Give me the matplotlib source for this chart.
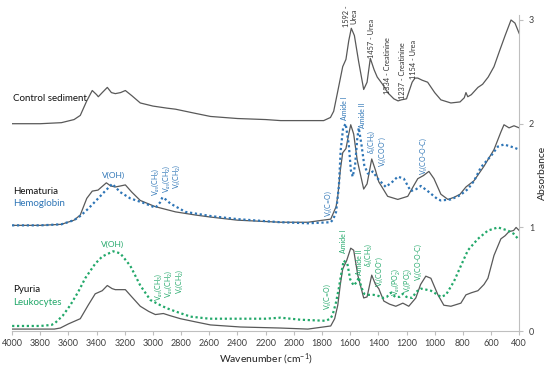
import matplotlib
matplotlib.use("Agg")
from matplotlib import pyplot as plt
import numpy as np

plt.rcParams['font.family'] = ['Lato', 'DejaVu Sans']
plt.rcParams['mathtext.fontset'] = 'custom'
plt.rcParams['mathtext.rm'] = 'Lato'
plt.rcParams['mathtext.it'] = 'Lato:italic'
plt.rcParams['mathtext.bf'] = 'Lato:bold'

# Control sediment (offset +2 in the original)
control_wn = [4000, 3800, 3650, 3560, 3516, 3470, 3431, 3400, 3388, 3360, 3324, 3295, 3267, 3230, 3196, 3150,
              3090, 3000, 2900, 2840, 2700, 2592, 2400, 2200, 2094, 1900, 1788, 1740, 1717, 1690, 1653, 1630,
              1610, 1592, 1570, 1540, 1504, 1480, 1457, 1430, 1408, 1370, 1334, 1290, 1260, 1237, 1200, 1160,
              1140, 1120, 1090, 1050, 1000, 956, 885, 820, 790, 778, 765, 740, 693, 660, 620, 579, 540, 500,
              458, 430, 400]
control_abs = [2.00, 2.00, 2.01, 2.04, 2.08, 2.22, 2.32, 2.28, 2.26, 2.30, 2.35, 2.30, 2.29, 2.30, 2.32, 2.27,
               2.20, 2.17, 2.15, 2.14, 2.10, 2.07, 2.05, 2.04, 2.03, 2.03, 2.03, 2.06, 2.12, 2.30, 2.55, 2.62,
               2.80, 2.92, 2.85, 2.60, 2.33, 2.40, 2.63, 2.52, 2.45, 2.38, 2.30, 2.24, 2.22, 2.23, 2.24, 2.40,
               2.44, 2.44, 2.42, 2.40, 2.30, 2.23, 2.20, 2.21, 2.25, 2.30, 2.26, 2.28, 2.35, 2.38, 2.45, 2.55,
               2.70, 2.85, 3.00, 2.97, 2.87]

# Hematuria (offset +1)
hema_wn = [4000, 3800, 3650, 3560, 3516, 3470, 3431, 3390, 3331, 3300, 3267, 3230, 3196, 3150, 3090, 2983,
           2840, 2700, 2592, 2400, 2094, 1900, 1738, 1700, 1688, 1670, 1653, 1630, 1610, 1596, 1575, 1550,
           1504, 1480, 1447, 1420, 1397, 1334, 1262, 1191, 1150, 1120, 1080, 1041, 1005, 956, 906, 863, 820,
           778, 721, 650, 579, 530, 508, 472, 437, 400]
hema_abs = [1.02, 1.02, 1.03, 1.07, 1.12, 1.28, 1.35, 1.36, 1.43, 1.40, 1.39, 1.40, 1.41, 1.34, 1.26, 1.20,
            1.15, 1.12, 1.10, 1.07, 1.05, 1.05, 1.08, 1.20, 1.30, 1.55, 1.72, 1.76, 1.90, 1.99, 1.90, 1.65,
            1.37, 1.42, 1.66, 1.55, 1.44, 1.30, 1.27, 1.30, 1.40, 1.47, 1.50, 1.54, 1.47, 1.32, 1.27, 1.29,
            1.32, 1.39, 1.45, 1.59, 1.75, 1.92, 1.99, 1.96, 1.98, 1.96]

# Hemoglobin (offset +1)
hemo_wn = [4000, 3800, 3650, 3560, 3516, 3460, 3410, 3340, 3289, 3232, 3161, 3054, 2983, 2950, 2933, 2910,
           2876, 2770, 2592, 2400, 2094, 1900, 1738, 1720, 1700, 1680, 1667, 1650, 1632, 1610, 1595, 1582,
           1565, 1550, 1539, 1520, 1500, 1475, 1455, 1440, 1404, 1347, 1300, 1262, 1219, 1170, 1130, 1098,
           1049, 977, 956, 885, 820, 764, 720, 672, 600, 551, 508, 437, 400]
hemo_abs = [1.02, 1.02, 1.03, 1.07, 1.11, 1.18, 1.25, 1.35, 1.42, 1.34, 1.28, 1.23, 1.19, 1.24, 1.29, 1.27,
            1.23, 1.15, 1.11, 1.08, 1.05, 1.04, 1.05, 1.08, 1.15, 1.40, 1.75, 1.96, 2.00, 1.80, 1.55, 1.49,
            1.60, 1.85, 1.96, 1.80, 1.60, 1.52, 1.52, 1.54, 1.47, 1.39, 1.44, 1.49, 1.47, 1.35, 1.37, 1.40,
            1.35, 1.27, 1.26, 1.27, 1.31, 1.37, 1.45, 1.58, 1.69, 1.78, 1.80, 1.77, 1.75]

# Pyuria
pyu_wn = [4000, 3800, 3700, 3658, 3600, 3516, 3460, 3410, 3360, 3324, 3290, 3267, 3196, 3150, 3090, 3030,
          2983, 2926, 2880, 2805, 2700, 2592, 2378, 2094, 1900, 1738, 1710, 1688, 1670, 1653, 1625, 1596,
          1575, 1546, 1504, 1480, 1447, 1420, 1397, 1361, 1320, 1276, 1226, 1184, 1134, 1100, 1063, 1027,
          977, 935, 885, 814, 778, 740, 693, 650, 622, 579, 530, 500, 472, 440, 422, 400]
pyu_abs = [0.02, 0.02, 0.02, 0.03, 0.07, 0.12, 0.25, 0.36, 0.39, 0.44, 0.41, 0.40, 0.40, 0.33, 0.24, 0.19,
           0.16, 0.17, 0.15, 0.12, 0.09, 0.06, 0.04, 0.03, 0.02, 0.05, 0.12, 0.25, 0.45, 0.60, 0.68, 0.80,
           0.78, 0.54, 0.32, 0.33, 0.54, 0.45, 0.41, 0.29, 0.26, 0.24, 0.27, 0.24, 0.32, 0.45, 0.53, 0.51,
           0.35, 0.25, 0.24, 0.27, 0.35, 0.37, 0.39, 0.45, 0.51, 0.73, 0.89, 0.92, 0.96, 0.97, 1.00, 0.97]

# Leukocytes
leuk_wn = [4000, 3800, 3720, 3694, 3640, 3587, 3530, 3481, 3410, 3360, 3282, 3232, 3161, 3090, 3018, 2947,
           2900, 2840, 2734, 2600, 2400, 2200, 2094, 1952, 1774, 1740, 1724, 1700, 1681, 1660, 1646, 1620,
           1600, 1575, 1550, 1539, 1520, 1500, 1470, 1433, 1400, 1368, 1340, 1312, 1280, 1250, 1226, 1200,
           1160, 1130, 1098, 1060, 1027, 990, 956, 920, 863, 814, 764, 693, 622, 551, 480, 440, 408, 400]
leuk_abs = [0.05, 0.05, 0.06, 0.08, 0.15, 0.25, 0.38, 0.51, 0.65, 0.72, 0.77, 0.75, 0.63, 0.44, 0.30, 0.25,
            0.22, 0.19, 0.14, 0.12, 0.12, 0.12, 0.13, 0.11, 0.10, 0.12, 0.16, 0.28, 0.41, 0.58, 0.68, 0.65,
            0.50, 0.44, 0.48, 0.52, 0.42, 0.36, 0.35, 0.35, 0.34, 0.32, 0.33, 0.37, 0.33, 0.33, 0.36, 0.33,
            0.32, 0.38, 0.41, 0.40, 0.39, 0.36, 0.33, 0.35, 0.48, 0.63, 0.78, 0.89, 0.97, 1.00, 0.97, 0.94,
            0.89, 0.88]

x_ticks = list(range(4000, 399, -200))
y_ticks = [0, 1, 2, 3]

# band labels: (text, wavenumber, absorbance at text bottom)
control_bands = [("1592 -\nUrea", 1600, 2.93), ("1457 - Urea", 1447, 2.63), ("1334 - Creatinine", 1333, 2.29),
                 ("1237 - Creatinine", 1226, 2.24), ("1154 - Urea", 1148, 2.43)]
hemo_bands = [(r"V$_{as}$(CH$_3$)", 2985, 1.30), (r"V$_{as}$(CH$_2$)", 2908, 1.33), (r"V$_s$(CH$_2$)", 2831, 1.37),
              (r"V$_s$(C=O)", 1752, 1.10), ("Amide I", 1640, 2.04), ("Amide II", 1510, 1.96),
              (r"$\delta_s$(CH$_3$)", 1448, 1.71), (r"V$_s$(COO$^{-}$)", 1373, 1.58), (r"V$_s$(CO-O-C)", 1084, 1.51)]
leuk_bands = [(r"V$_{as}$(CH$_3$)", 2965, 0.29), (r"V$_{as}$(CH$_2$)", 2888, 0.32), (r"V$_s$(CH$_2$)", 2811, 0.36),
              (r"V$_s$(C=O)", 1759, 0.20), ("Amide I", 1646, 0.75), ("Amide II", 1532, 0.54),
              (r"$\delta_s$(CH$_3$)", 1468, 0.62), (r"V$_s$(COO$^{-}$)", 1393, 0.43),
              (r"V$_{as}$(PO$_2^{-}$)", 1278, 0.34), (r"V$_s$(PO$_2^{-}$)", 1196, 0.37), (r"V$_s$(CO-O-C)", 1115, 0.48)]

gray = '#595959'
blue = '#2E75B6'
green = '#22A86A'

fig = plt.figure(figsize=(5.5, 3.7), dpi=100)
ax = fig.add_axes([0.022, 0.105, 0.922, 0.855])

ax.plot(control_wn, control_abs, color=gray, lw=0.9)
ax.plot(hema_wn, hema_abs, color=gray, lw=0.9)
ax.plot(hemo_wn, hemo_abs, color=blue, lw=1.6, ls=(0, (1, 1.2)))
ax.plot(pyu_wn, pyu_abs, color=gray, lw=0.9)
ax.plot(leuk_wn, leuk_abs, color=green, lw=1.6, ls=(0, (1, 1.2)))

ax.set_xlim(4000, 400)
ax.set_ylim(0, 3.05)
ax.set_xticks(x_ticks)
ax.set_yticks(y_ticks)
ax.yaxis.tick_right()
ax.yaxis.set_label_position('right')
ax.tick_params(axis='x', labelsize=6.5, colors='#404040', length=3, color='#bfbfbf', pad=3)
ax.tick_params(axis='y', labelsize=6.5, colors='#404040', length=3, color='#bfbfbf', pad=4)
for s in ['top', 'left']:
    ax.spines[s].set_visible(False)
for s in ['bottom', 'right']:
    ax.spines[s].set_color('#bfbfbf')
    ax.spines[s].set_linewidth(0.8)
ax.set_xlabel('Wavenumber (cm$^{-1}$)', fontsize=7.5, color='#222222', labelpad=2)
ax.set_ylabel('Absorbance', fontsize=7.5, color='#222222', labelpad=3)

for txt, wn, a in control_bands:
    ax.text(wn, a, txt, rotation=90, ha='center', va='bottom', fontsize=5.3, color='#333333', linespacing=1.0)
for txt, wn, a in hemo_bands:
    ax.text(wn, a, txt, rotation=90, ha='center', va='bottom', fontsize=5, color=blue)
for txt, wn, a in leuk_bands:
    ax.text(wn, a, txt, rotation=90, ha='center', va='bottom', fontsize=5, color=green)

ax.text(3282, 1.50, 'V(OH)', ha='center', va='center', fontsize=6, color=blue)
ax.text(3289, 0.84, 'V(OH)', ha='center', va='center', fontsize=6, color=green)

ax.text(3993, 2.24, 'Control sediment', ha='left', va='center', fontsize=7, color='#111111')
ax.text(3993, 1.35, 'Hematuria', ha='left', va='center', fontsize=7, color='#111111')
ax.text(3993, 1.23, 'Hemoglobin', ha='left', va='center', fontsize=7, color=blue)
ax.text(3993, 0.40, 'Pyuria', ha='left', va='center', fontsize=7, color='#111111')
ax.text(3993, 0.28, 'Leukocytes', ha='left', va='center', fontsize=7, color=green)

fig.savefig('out.png', dpi=100)
